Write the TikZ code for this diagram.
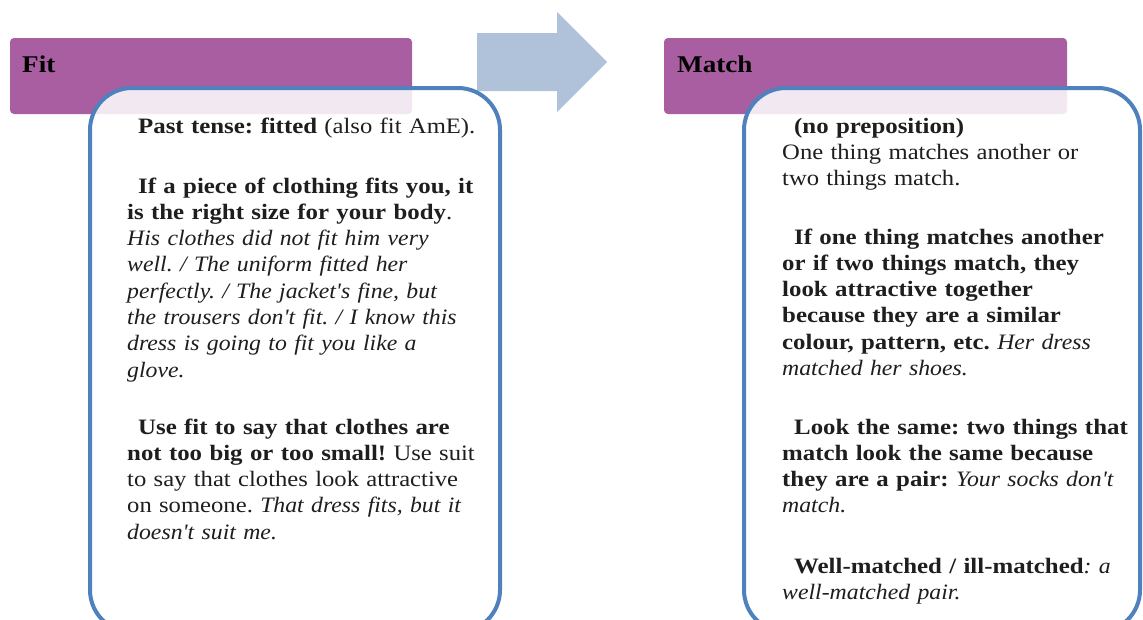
\documentclass[tikz,border=0pt]{standalone}
\usepackage{fontspec}
\setmainfont{Liberation Serif}[Ligatures=TeXOff,
  UprightFeatures={FakeStretch=1.12},
  BoldFeatures={FakeStretch=1.13},
  ItalicFeatures={FakeStretch=1.08}]
\definecolor{hdrpurple}{RGB}{168,94,160}
\definecolor{boxblue}{RGB}{79,129,189}
\definecolor{arrowblue}{RGB}{176,193,218}
\definecolor{txtgray}{RGB}{30,30,30}
\begin{document}
\frenchspacing
\begin{tikzpicture}[x=1pt,y=-1pt,
  header/.style={fill=hdrpurple,rounded corners=4pt},
  card/.style={draw=boxblue,line width=4pt,fill=white,fill opacity=0.86,rounded corners=42pt},
  htext/.style={anchor=base west,inner sep=0pt,font=\fontsize{24}{28}\selectfont\bfseries,text=black},
  para/.style={anchor=base west,inner sep=0pt,text width=420pt,align=left,
    font=\frenchspacing\fontsize{22}{26.3}\selectfont,text=txtgray}]
\useasboundingbox (0,0) rectangle (1143,619);
\begin{scope}
\clip (0,0) rectangle (1143,619);
% headers
\path[header] (10,38) rectangle (412,114);
\path[header] (664,38) rectangle (1067,114);
% arrow
\fill[arrowblue] (477,33) -- (557,33) -- (557,12) -- (607,62) -- (557,112) -- (557,91) -- (477,91) -- cycle;
% cards
\path[card] (90,88) rectangle (500,632);
\path[card] (744,88) rectangle (1140,632);
\end{scope}
\node[htext] (fit) at (22,72) {Fit};
\node[htext] (match) at (677,72) {Match};
% left card text
\node[para] (l1) at (127,133) {\hspace*{11pt}\textbf{Past tense: fitted} (also fit AmE).};
\node[para] (l2) at (127,193) {\hspace*{11pt}\textbf{If a piece of clothing fits you, it}\\
\textbf{is the right size for your body}.\\
\textit{His clothes did not fit him very}\\
\textit{well. / The uniform fitted her}\\
\textit{perfectly. / The jacket's fine, but}\\
\textit{the trousers don't fit. / I know this}\\
\textit{dress is going to fit you like a}\\
\textit{glove.}};
\node[para] (l3) at (127,434) {\hspace*{11pt}\textbf{Use fit to say that clothes are}\\
\textbf{not too big or too small!} Use suit\\
to say that clothes look attractive\\
on someone. \textit{That dress fits, but it}\\
\textit{doesn't suit me.}};
% right card text
\node[para] (r1) at (782,133) {\hspace*{12pt}\textbf{(no preposition)}\\
One thing matches another or\\
two things match.};
\node[para] (r2) at (782,244) {\hspace*{12pt}\textbf{If one thing matches another}\\
\textbf{or if two things match, they}\\
\textbf{look attractive together}\\
\textbf{because they are a similar}\\
\textbf{colour, pattern, etc.} \textit{Her dress}\\
\textit{matched her shoes.}};
\node[para] (r3) at (782,434) {\hspace*{12pt}\textbf{Look the same: two things that}\\
\textbf{match look the same because}\\
\textbf{they are a pair:} \textit{Your socks don't}\\
\textit{match.}};
\node[para] (r4) at (782,573) {\hspace*{12pt}\textbf{Well-matched / ill-matched}\textit{: a}\\
\textit{well-matched pair.}};
\end{tikzpicture}
\end{document}
